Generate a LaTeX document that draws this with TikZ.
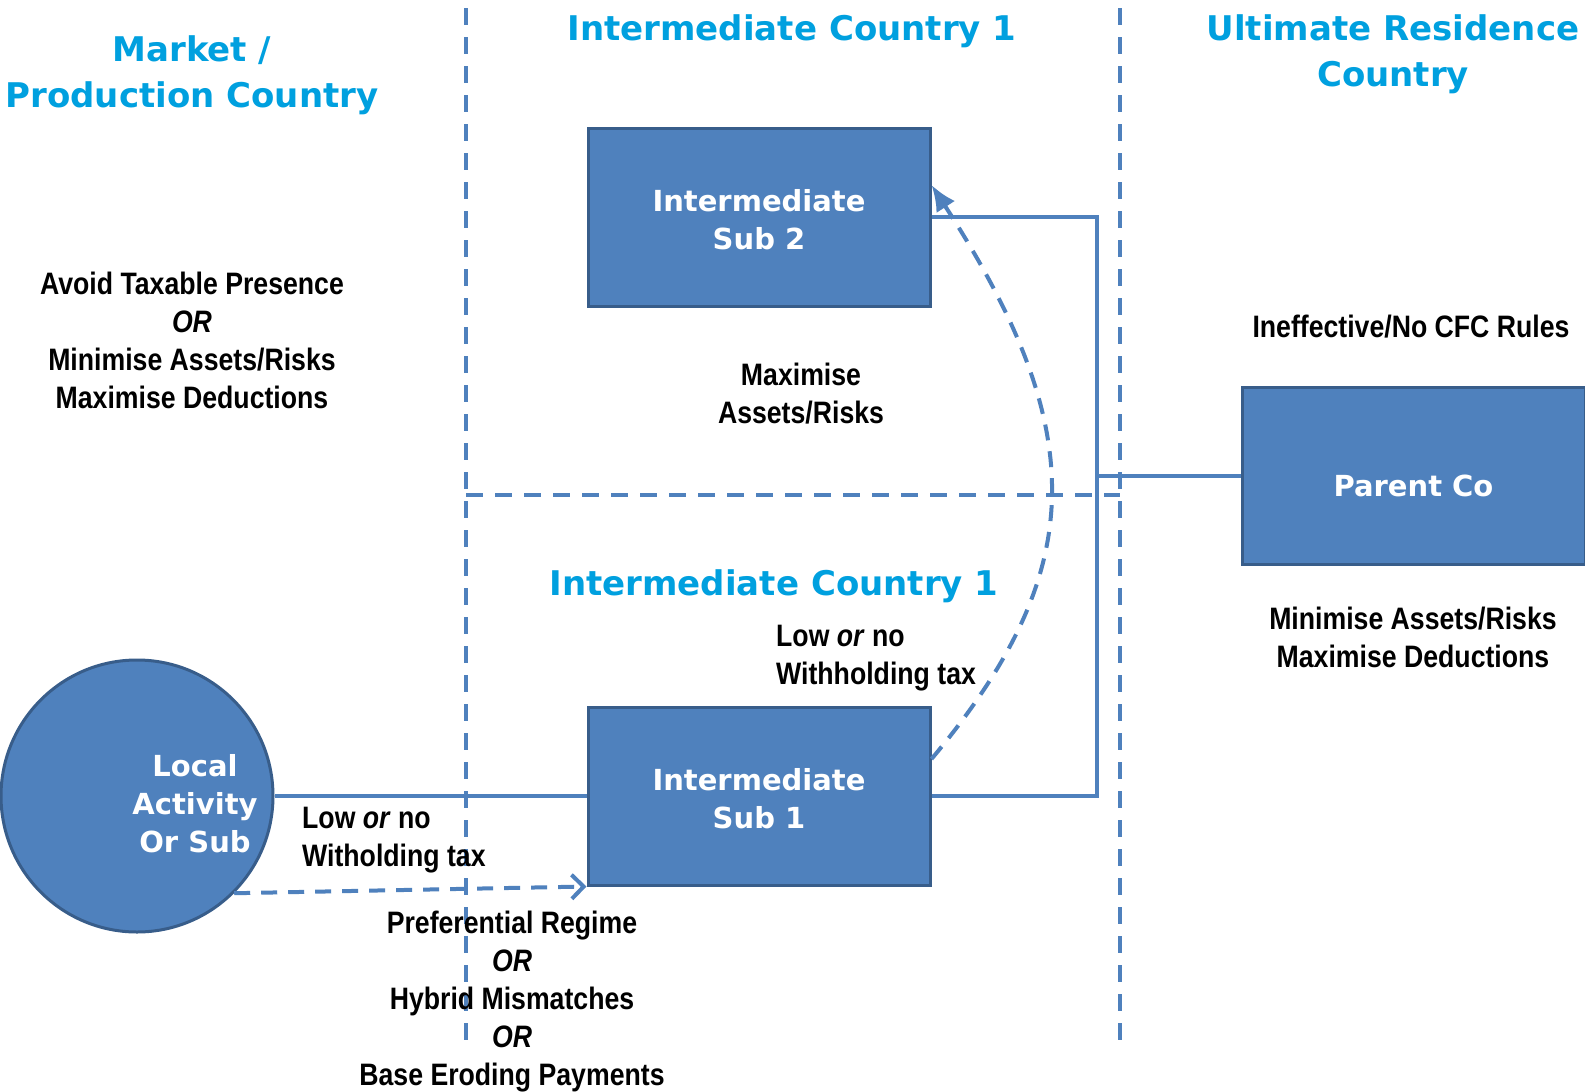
\documentclass[tikz,border=0pt]{standalone}
\usepackage{fontspec}
\setmainfont{DejaVu Sans}
\newfontfamily\headfont{DejaVu Sans}
\newfontfamily\lblfont[FakeStretch=0.86]{Liberation Sans}
\usetikzlibrary{arrows.meta,calc}
\definecolor{boxblue}{HTML}{4F81BD}
\definecolor{boxedge}{HTML}{385D8A}
\definecolor{headblue}{RGB}{0,160,223}
\tikzset{
  heading/.style={text=headblue, font=\headfont\bfseries\fontsize{34}{46}\selectfont, align=center, inner sep=0},
  entity/.style={draw=boxedge, fill=boxblue, line width=3, minimum width=342, minimum height=178, inner sep=0},
  entitytext/.style={text=white, font=\headfont\bfseries\fontsize{29}{38}\selectfont, align=center, inner sep=0},
  lbl/.style={font=\lblfont\bfseries\fontsize{31}{38}\selectfont, align=center, inner sep=0},
  divider/.style={draw=boxblue, line width=4, dash pattern=on 17 off 12},
  conn/.style={draw=boxblue, line width=4},
  flow/.style={draw=boxblue, line width=4, dash pattern=on 16 off 11},
}
\begin{document}
\begin{tikzpicture}[x=1pt,y=-1pt]
\useasboundingbox[fill=white] (0,0) rectangle (1585,1092);

% country borders
\coordinate (v1top) at (466,8);
\coordinate (v1bot) at (466,1041);
\coordinate (v2top) at (1120,8);
\coordinate (v2bot) at (1120,1041);
\coordinate (hleft) at (466,495);
\coordinate (hright) at (1120,495);
\draw[divider] (v1top) -- (v1bot);
\draw[divider] (v2top) -- (v2bot);
\draw[divider] (hleft) -- (hright);

% headings
\node[heading] (hmarket) at (192,75) {Market /\\Production Country};
\node[heading] (hinter) at (792,31) {Intermediate Country 1};
\node[heading] (hult) at (1393,54) {Ultimate Residence\\Country};
\node[heading] (hinter2) at (774,586) {Intermediate Country 1};

% entities
\node[entity] (sub2) at (759,217) {};
\node[entitytext] at ([yshift=-3pt]sub2.center) {Intermediate\\Sub 2};
\node[entity] (sub1) at (759,796) {};
\node[entitytext] at ([yshift=-3pt]sub1.center) {Intermediate\\Sub 1};
\node[entity, minimum width=343, minimum height=177] (parent) at (1413.5,475.5) {};
\node[entitytext] at ([yshift=-10pt]parent.center) {Parent Co};
\node[circle, draw=boxedge, fill=boxblue, line width=3, minimum size=272, inner sep=0] (local) at (137,796) {};
\node[entitytext] (localtext) at (195,804) {Local\\Activity\\Or Sub};

% ownership links
\coordinate (bend) at (1097,796);
\draw[conn] (sub2.east) -| (bend) -- (sub1.east);
\draw[conn] (parent.west) -- (parent.west -| bend);
\draw[conn] (local.east) -- (sub1.west);

% payment flows
\draw[flow, -{Straight Barb[length=12,width=24,line width=4]}] (local.-45) -- (sub1.south west);
\draw[flow, -{Latex[length=26,width=22]}] ([yshift=37pt]sub1.east) .. controls (1090,570) and (1090,430) .. ([yshift=32pt]sub2.east);

% annotations
\node[lbl] (avoid) at (192,340) {Avoid Taxable Presence\\\textit{OR}\\Minimise Assets/Risks\\Maximise Deductions};
\node[lbl] (maxassets) at (801,394) {Maximise\\Assets/Risks};
\node[lbl] (cfc) at (1411,327) {Ineffective/No CFC Rules};
\node[lbl] (minparent) at (1413,637) {Minimise Assets/Risks\\Maximise Deductions};
\node[lbl, anchor=west, align=left] (wht2) at (776,658) {Low \textit{or} no\\Withholding tax};
\node[lbl, anchor=west, align=left] (wht1) at (302,840) {Low \textit{or} no\\Witholding tax};
\node[lbl] (regime) at (512,1002) {Preferential Regime\\\textit{OR}\\Hybrid Mismatches\\\textit{OR}\\Base Eroding Payments};
\end{tikzpicture}
\end{document}
